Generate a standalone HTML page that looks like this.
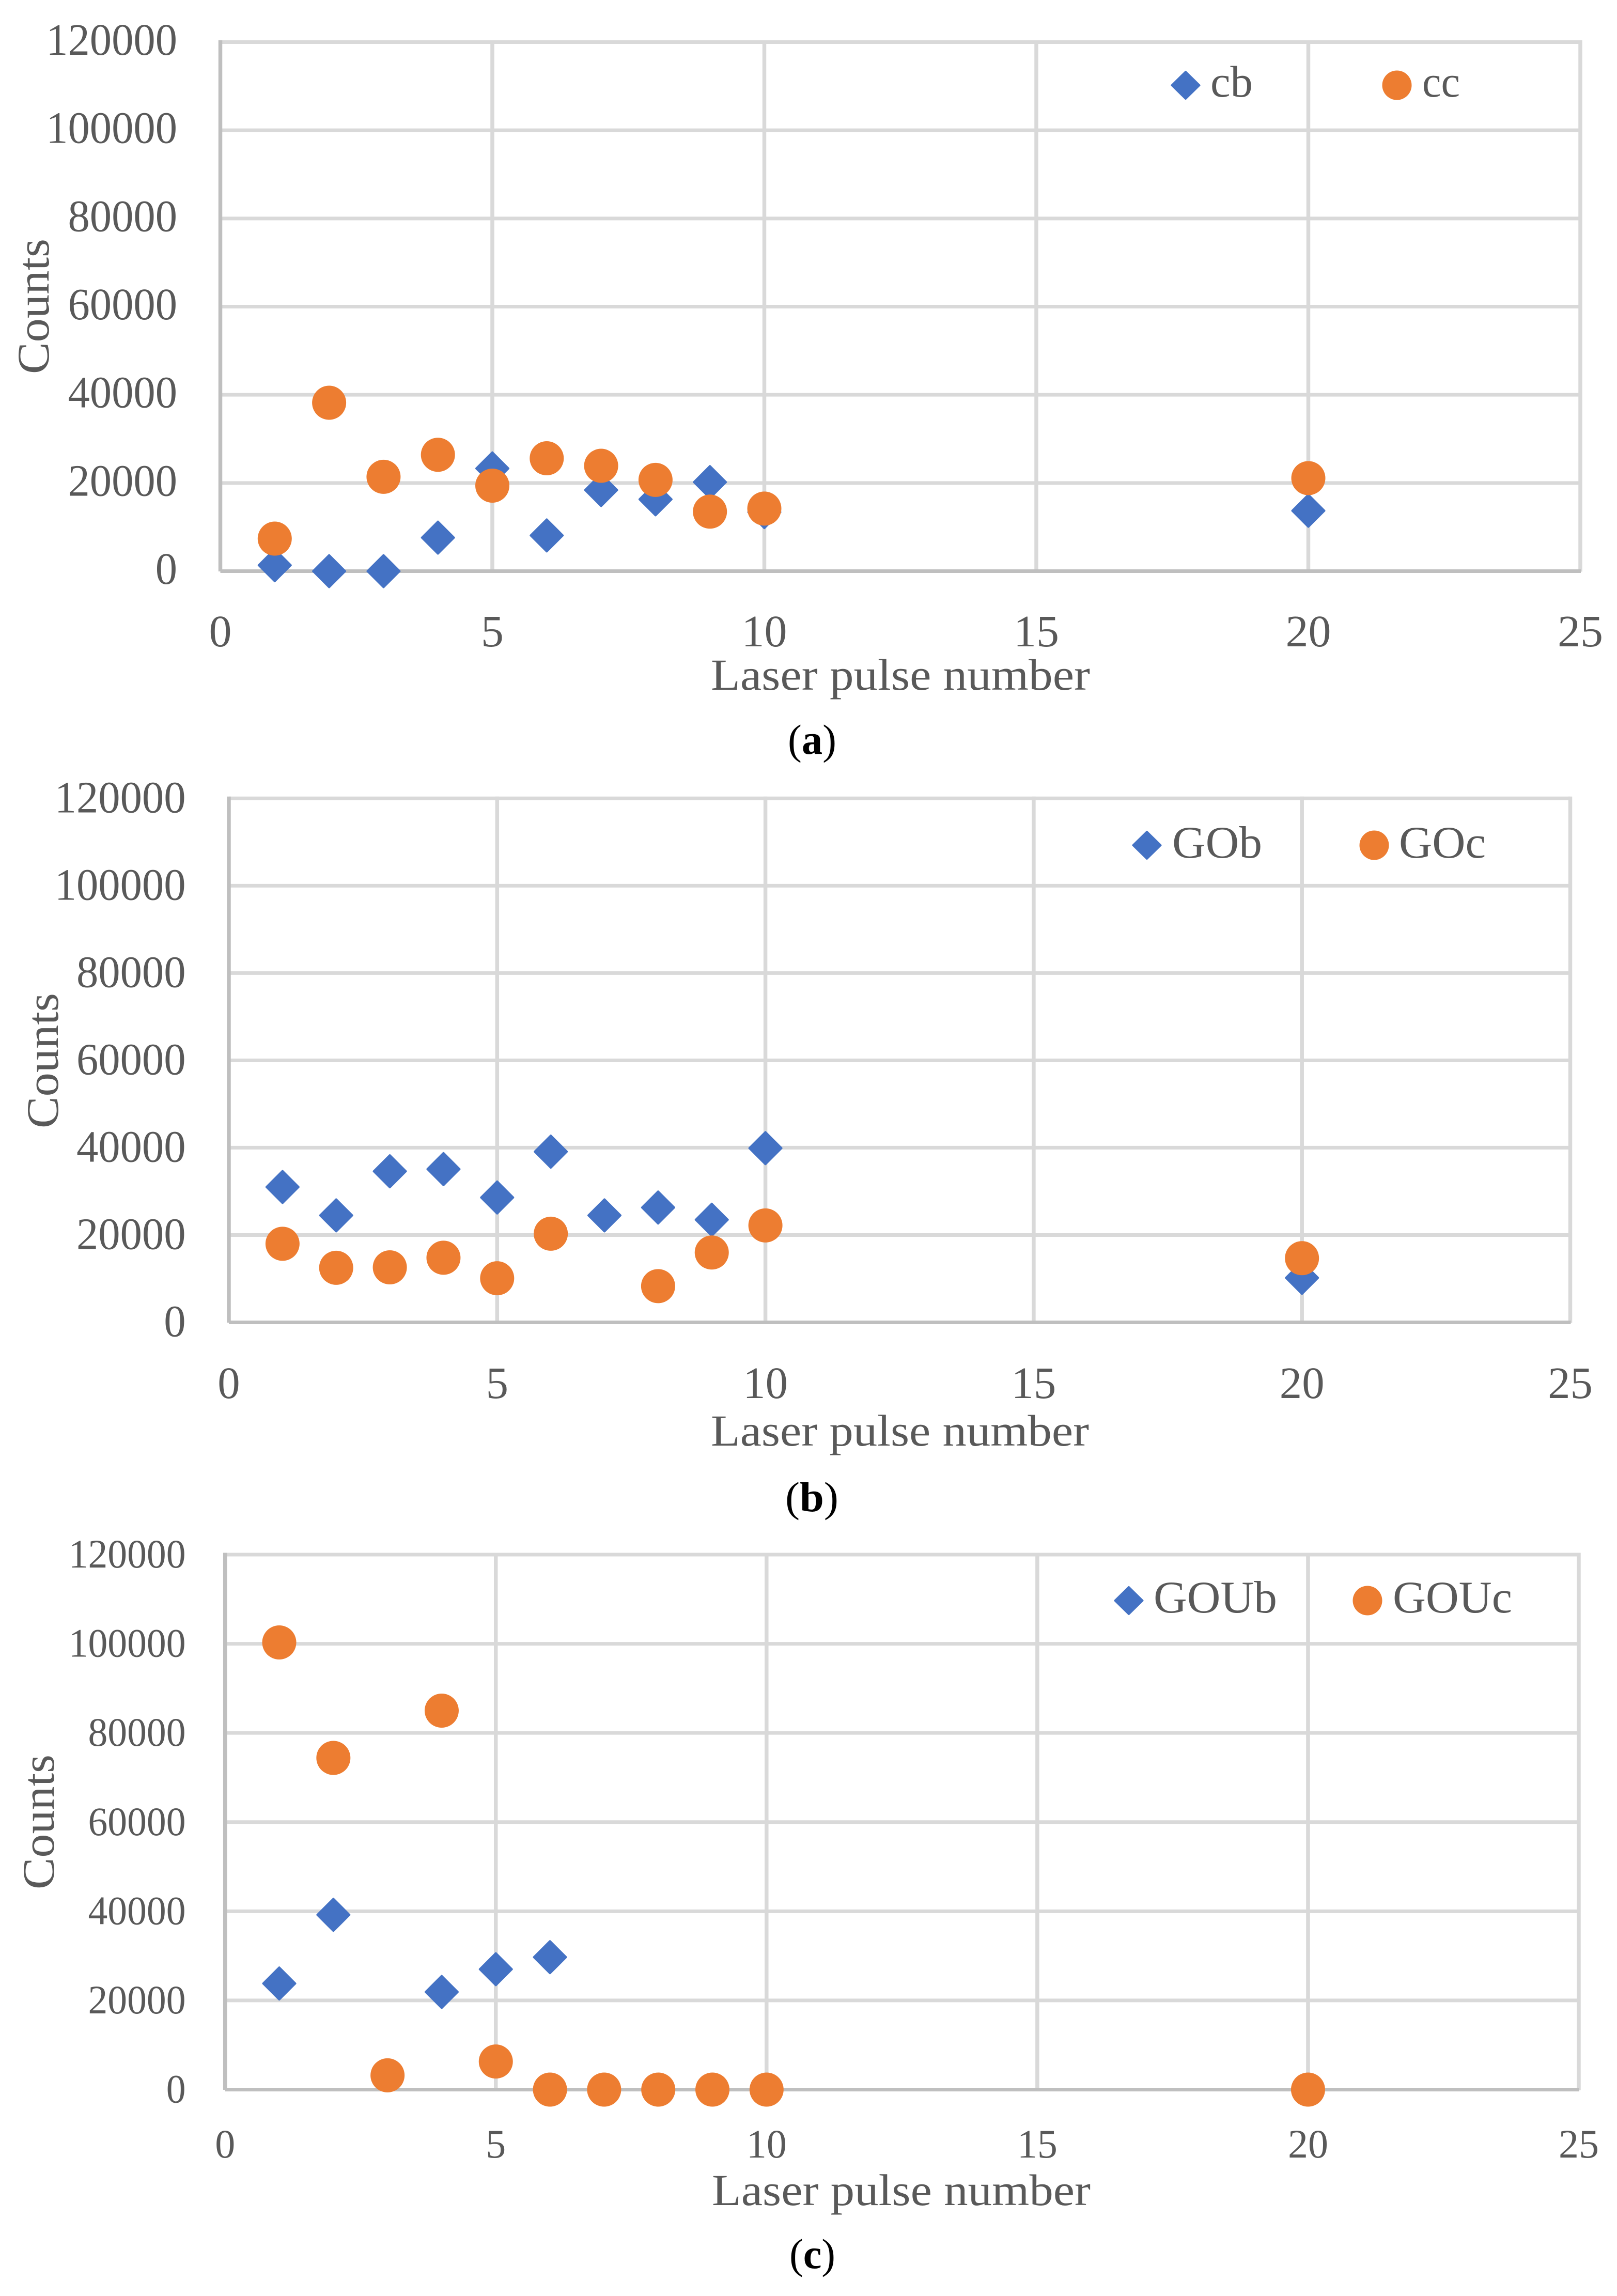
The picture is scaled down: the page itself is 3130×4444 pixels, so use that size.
<!DOCTYPE html>
<html lang="en">
<head>
<meta charset="utf-8">
<title>Counts versus laser pulse number</title>
<style>
html,body{margin:0;padding:0;background:#fff;width:3130px;height:4444px;overflow:hidden}
svg{display:block}
text{font-family:"Liberation Serif",serif;fill:#595959}
.caption{fill:#000;font-size:82px}
.caption tspan{fill:#000}
</style>
</head>
<body>
<svg id="figure" xmlns="http://www.w3.org/2000/svg" width="3130" height="4444" viewBox="0 0 3130 4444">
  <rect x="0" y="0" width="3130" height="4444" fill="#ffffff"/>

  <g id="chart-a">
    <g class="plot"></g>
    <text transform="translate(94,724) rotate(-90)" font-size="88" textLength="262" lengthAdjust="spacingAndGlyphs">Counts</text>
    <text x="1376" y="1335" font-size="86" textLength="734" lengthAdjust="spacingAndGlyphs">Laser pulse number</text>
    <g>
      <path d="M2295 139L2321.5 165L2295 191L2268.5 165Z" fill="#4472c4" stroke="#4472c4" stroke-width="4" stroke-linejoin="round"/>
      <text x="2343" y="187" font-size="86" textLength="82" lengthAdjust="spacingAndGlyphs">cb</text>
      <circle cx="2704" cy="165" r="28.5" fill="#ed7d31"/>
      <text x="2753" y="187" font-size="86" textLength="73" lengthAdjust="spacingAndGlyphs">cc</text>
    </g>
    <text class="caption" x="1525" y="1459" textLength="94" lengthAdjust="spacingAndGlyphs">(<tspan font-weight="bold">a</tspan>)</text>
  </g>

  <g id="chart-b">
    <g class="plot"></g>
    <text transform="translate(112,2184) rotate(-90)" font-size="88" textLength="262" lengthAdjust="spacingAndGlyphs">Counts</text>
    <text x="1376" y="2798" font-size="86" textLength="732" lengthAdjust="spacingAndGlyphs">Laser pulse number</text>
    <g>
      <path d="M2220 1610L2246.5 1636L2220 1662L2193.5 1636Z" fill="#4472c4" stroke="#4472c4" stroke-width="4" stroke-linejoin="round"/>
      <text x="2269" y="1660" font-size="88" textLength="174" lengthAdjust="spacingAndGlyphs">GOb</text>
      <circle cx="2660" cy="1636" r="28.5" fill="#ed7d31"/>
      <text x="2708" y="1660" font-size="88" textLength="168" lengthAdjust="spacingAndGlyphs">GOc</text>
    </g>
    <text class="caption" x="1520" y="2925" textLength="103" lengthAdjust="spacingAndGlyphs">(<tspan font-weight="bold">b</tspan>)</text>
  </g>

  <g id="chart-c">
    <g class="plot"></g>
    <text transform="translate(104,3657) rotate(-90)" font-size="88" textLength="261" lengthAdjust="spacingAndGlyphs">Counts</text>
    <text x="1378" y="4268" font-size="86" textLength="733" lengthAdjust="spacingAndGlyphs">Laser pulse number</text>
    <g>
      <path d="M2185 3072L2211.5 3098L2185 3124L2158.5 3098Z" fill="#4472c4" stroke="#4472c4" stroke-width="4" stroke-linejoin="round"/>
      <text x="2233" y="3121" font-size="88" textLength="239" lengthAdjust="spacingAndGlyphs">GOUb</text>
      <circle cx="2647" cy="3098" r="28.5" fill="#ed7d31"/>
      <text x="2696" y="3121" font-size="88" textLength="231" lengthAdjust="spacingAndGlyphs">GOUc</text>
    </g>
    <text class="caption" x="1528" y="4390" textLength="89" lengthAdjust="spacingAndGlyphs">(<tspan font-weight="bold">c</tspan>)</text>
  </g>
</svg>

<script>
// Shared axes and categories
const pulseNumbers = [1, 2, 3, 4, 5, 6, 7, 8, 9, 10, 20];
const xTickLabels = [0, 5, 10, 15, 20, 25];
const yTickLabels = [0, 20000, 40000, 60000, 80000, 100000, 120000];

// Chart (a)
const cbCounts = [1350, 0, 0, 7600, 23300, 8100, 18400, 16300, 20200, 13400, 13700];
const ccCounts = [7380, 38200, 21400, 26400, 19400, 25600, 23900, 20700, 13500, 14200, 21100];

// Chart (b)
const gobCounts = [31000, 24500, 34600, 35100, 28600, 39100, 24500, 26300, 23500, 39900, 10200];
const gocCounts = [18000, 12500, 12600, 14800, 10100, 20300, null, 8300, 16000, 22200, 14700];

// Chart (c)
const goubCounts = [23800, 39200, null, 21900, 27000, 29700, null, null, null, null, null];
const goucCounts = [100300, 74400, 3200, 85000, 6300, 0, 0, 0, 0, 0, 0];

const SVG_NS = 'http://www.w3.org/2000/svg';
const X_MAX = 25;
const Y_MAX = 120000;
const BLUE = '#4472c4';
const ORANGE = '#ed7d31';

function svgEl(tag, attrs) {
  const el = document.createElementNS(SVG_NS, tag);
  Object.keys(attrs).forEach(function (key) { el.setAttribute(key, attrs[key]); });
  return el;
}

function drawChart(cfg) {
  const plot = document.querySelector('#' + cfg.id + ' .plot');
  const xScale = function (v) { return cfg.left + (v / X_MAX) * (cfg.right - cfg.left); };
  const yScale = function (v) { return cfg.bottom - (v / Y_MAX) * (cfg.bottom - cfg.top); };

  // Horizontal gridlines and y tick labels
  yTickLabels.forEach(function (tick) {
    const y = yScale(tick);
    if (tick !== 0) {
      const grid = svgEl('line', { x1: cfg.left, x2: cfg.right, y1: y, y2: y, stroke: '#d9d9d9', 'stroke-width': 7 });
      
      
      plot.appendChild(grid);
    }
    const text = String(tick);
    const len = text.length * cfg.yDigit;
    const label = svgEl('text', { x: cfg.yLabelRight - len, y: y + cfg.yLabelDrop, 'font-size': cfg.tickFont, textLength: len, lengthAdjust: 'spacingAndGlyphs' });
    label.textContent = text;
    
    
    plot.appendChild(label);
  });

  // Vertical gridlines and x tick labels
  xTickLabels.forEach(function (tick) {
    const x = xScale(tick);
    if (tick !== 0) {
      const grid = svgEl('line', { x1: x, x2: x, y1: cfg.top - 3.5, y2: cfg.bottom + 1, stroke: '#d9d9d9', 'stroke-width': cfg.vLine });
      
      
      plot.appendChild(grid);
    }
    const text = String(tick);
    const len = text.length * cfg.xDigit;
    const label = svgEl('text', { x: x - len / 2, y: cfg.xLabelY, 'font-size': cfg.tickFont, textLength: len, lengthAdjust: 'spacingAndGlyphs' });
    label.textContent = text;
    
    
    plot.appendChild(label);
  });

  // Axis lines
  const yAxis = svgEl('line', { x1: cfg.left, x2: cfg.left, y1: cfg.top - 3.5, y2: cfg.bottom + 0.5, stroke: '#bfbfbf', 'stroke-width': cfg.vLine });
  
  
  plot.appendChild(yAxis);

  const xAxis = svgEl('line', { x1: cfg.left, x2: cfg.right + 1, y1: cfg.bottom, y2: cfg.bottom, stroke: '#bfbfbf', 'stroke-width': 7 });
  
  
  plot.appendChild(xAxis);

  // Diamond series
  cfg.diamonds.forEach(function (value, i) {
    if (value === null) return;
    const cx = xScale(pulseNumbers[i]);
    const cy = yScale(value);
    const h = 31;
    const mark = svgEl('path', {
      d: 'M' + cx + ' ' + (cy - h) + 'L' + (cx + h) + ' ' + cy + 'L' + cx + ' ' + (cy + h) + 'L' + (cx - h) + ' ' + cy + 'Z',
      fill: BLUE, stroke: BLUE, 'stroke-width': 4, 'stroke-linejoin': 'round'
    });
    
    
    plot.appendChild(mark);
  });

  // Circle series
  cfg.circles.forEach(function (value, i) {
    if (value === null) return;
    const mark = svgEl('circle', { cx: xScale(pulseNumbers[i]), cy: yScale(value), r: 33, fill: ORANGE });
    
    
    plot.appendChild(mark);
  });
}

drawChart({ id: 'chart-a', left: 426.5, right: 3059, top: 81.5, bottom: 1105.5, vLine: 7.5, yLabelRight: 343, yLabelDrop: 24.5, yDigit: 42.3, xDigit: 44, xLabelY: 1251, tickFont: 87, diamonds: cbCounts, circles: ccCounts });
drawChart({ id: 'chart-b', left: 443, right: 3039.5, top: 1545.3, bottom: 2559.5, vLine: 7.5, yLabelRight: 359.5, yLabelDrop: 27, yDigit: 42.3, xDigit: 43.4, xLabelY: 2706, tickFont: 87, diamonds: gobCounts, circles: gocCounts });
drawChart({ id: 'chart-c', left: 435.7, right: 3056, top: 3009, bottom: 4044.5, vLine: 7.5, yLabelRight: 359.5, yLabelDrop: 25, yDigit: 37.8, xDigit: 39, xLabelY: 4176, tickFont: 78, diamonds: goubCounts, circles: goucCounts });
</script>
</body>
</html>
